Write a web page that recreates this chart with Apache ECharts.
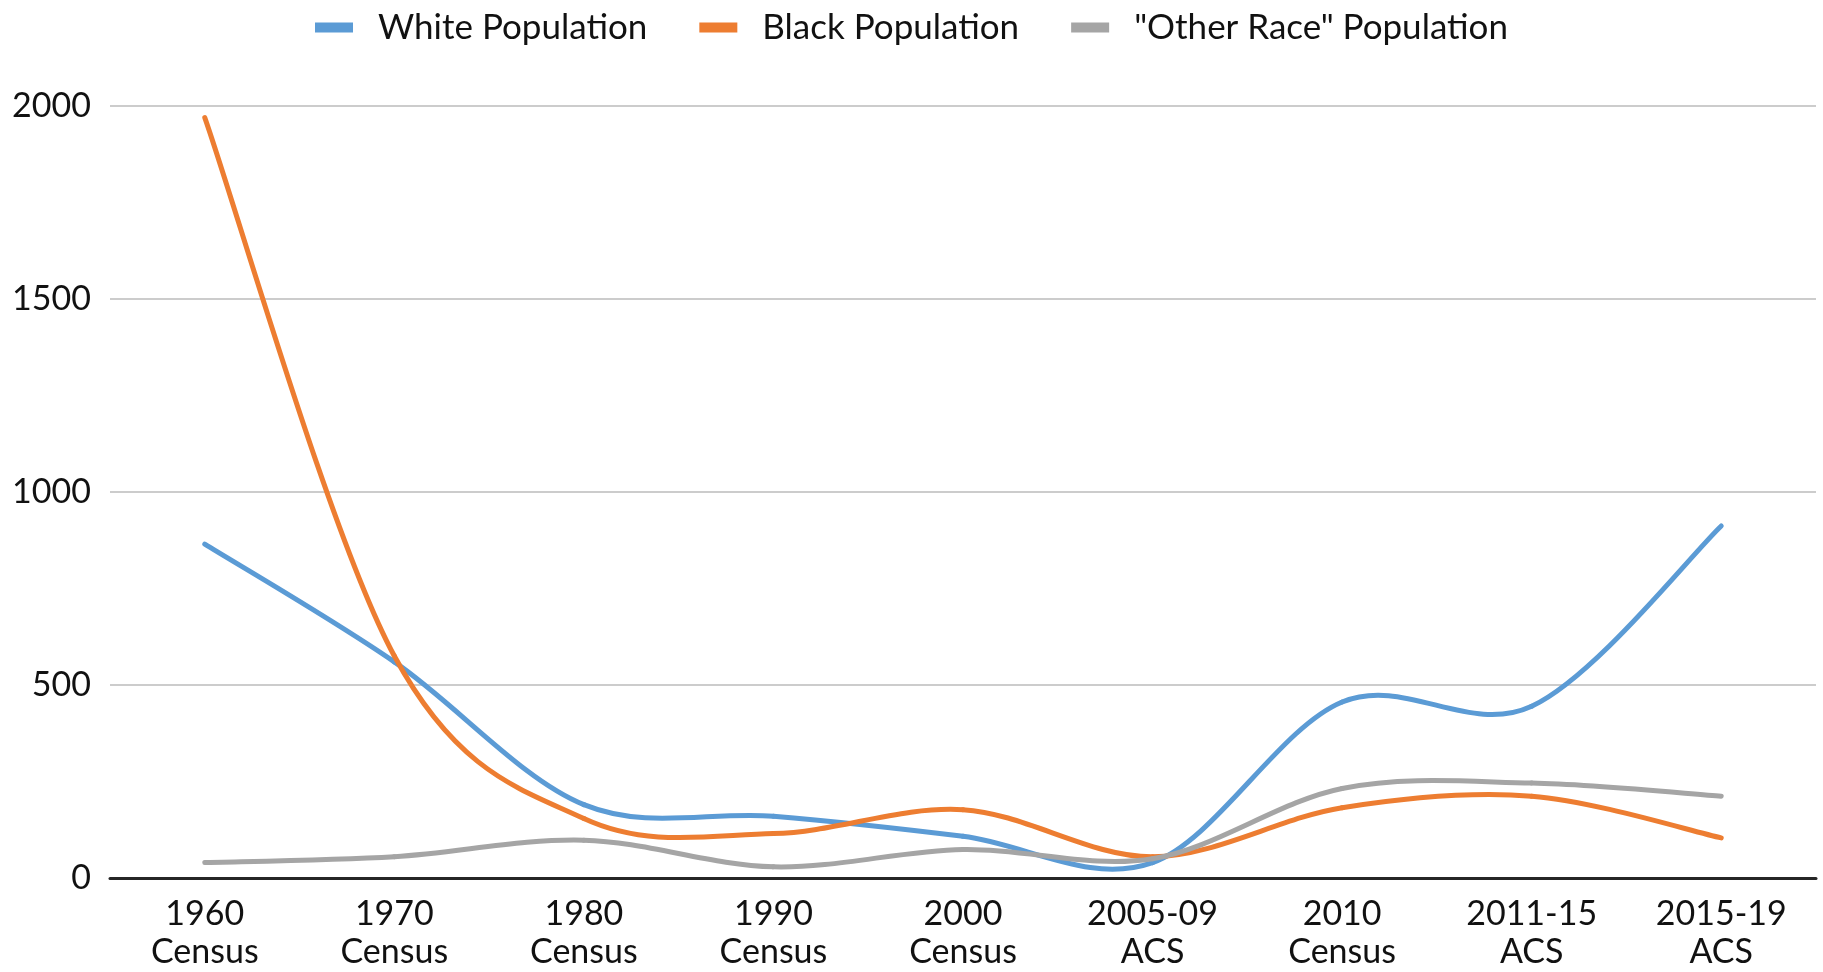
<!DOCTYPE html>
<html>
<head>
<meta charset="utf-8">
<title>Population by Race, 1960–2019</title>
<script src="https://cdn.jsdelivr.net/npm/echarts@6/dist/echarts.min.js"></script>
<style>
  html, body { margin: 0; padding: 0; background: #ffffff; }
  #chart { width: 1823px; height: 972px; }
</style>
</head>
<body>
<div id="chart"></div>
<script>
// Survey periods along the x axis
const periods = [
  '1960\nCensus', '1970\nCensus', '1980\nCensus', '1990\nCensus', '2000\nCensus',
  '2005-09\nACS', '2010\nCensus', '2011-15\nACS', '2015-19\nACS'
];

// Population counts per survey period
const whitePopulation = [865, 560, 190, 160, 108, 40, 456, 445, 912];
const blackPopulation = [1970, 575, 154, 115, 177, 55, 182, 212, 104];
const otherRacePopulation = [40, 55, 98, 29, 74, 50, 232, 246, 212];

// Value axis ticks
const yTicks = [0, 500, 1000, 1500, 2000];

const seriesNames = ['White Population', 'Black Population', '"Other Race" Population'];
const seriesColors = ['#5B9BD5', '#ED7D31', '#A5A5A5'];
const seriesValues = [whitePopulation, blackPopulation, otherRacePopulation];

const FONT = 'Lato, "Open Sans", sans-serif';
const LINE_WIDTH = 5;

// Smoothed line: each segment is a cubic Bezier whose control points follow
// the Catmull-Rom rule (neighbouring points, one sixth of the chord), so the
// curve passes through every value and may swing past it between periods.
function smoothSegmentRenderer(values, color) {
  return function (params, api) {
    const i = params.dataIndex;
    const n = values.length;
    if (i >= n - 1) return null;
    const pt = (k) => api.coord([Math.max(0, Math.min(n - 1, k)), values[Math.max(0, Math.min(n - 1, k))]]);
    const p0 = pt(i - 1), p1 = pt(i), p2 = pt(i + 1), p3 = pt(i + 2);
    return {
      type: 'bezierCurve',
      shape: {
        x1: p1[0], y1: p1[1],
        cpx1: p1[0] + (p2[0] - p0[0]) / 6, cpy1: p1[1] + (p2[1] - p0[1]) / 6,
        cpx2: p2[0] - (p3[0] - p1[0]) / 6, cpy2: p2[1] - (p3[1] - p1[1]) / 6,
        x2: p2[0], y2: p2[1]
      },
      style: {
        fill: null,
        stroke: color,
        lineWidth: LINE_WIDTH,
        lineCap: 'round'
      }
    };
  };
}

const chart = echarts.init(document.getElementById('chart'), null, { renderer: 'canvas' });

chart.setOption({
  backgroundColor: '#ffffff',
  animation: false,
  color: seriesColors,
  legend: {
    left: 'center',
    top: 5,
    icon: 'rect',
    itemWidth: 38,
    itemHeight: 10,
    itemGap: 52,
    textStyle: {
      fontFamily: FONT,
      fontSize: 35,
      color: '#111111',
      padding: [0, 0, 0, 20]
    },
    data: seriesNames
  },
  grid: {
    left: 110,
    right: 7,
    top: 106,
    bottom: 94,
    containLabel: false
  },
  xAxis: {
    type: 'category',
    data: periods,
    boundaryGap: true,
    axisLine: { show: true, lineStyle: { color: '#262626', width: 3 } },
    axisTick: { show: false },
    axisLabel: {
      interval: 0,
      margin: 17,
      fontFamily: FONT,
      fontSize: 34,
      lineHeight: 38,
      color: '#111111'
    },
    splitLine: { show: false }
  },
  yAxis: {
    type: 'value',
    min: yTicks[0],
    max: yTicks[yTicks.length - 1],
    interval: yTicks[1] - yTicks[0],
    axisLine: { show: false },
    axisTick: { show: false },
    axisLabel: {
      margin: 19,
      fontFamily: FONT,
      fontSize: 34,
      color: '#111111',
      formatter: (v) => String(v)
    },
    splitLine: { show: true, lineStyle: { color: '#cccccc', width: 2 } }
  },
  series: seriesNames.map((name, i) => ({
    name: name,
    type: 'custom',
    coordinateSystem: 'cartesian2d',
    data: seriesValues[i].map((v, k) => [k, v]),
    encode: { x: 0, y: 1 },
    renderItem: smoothSegmentRenderer(seriesValues[i], seriesColors[i]),
    itemStyle: { color: seriesColors[i] },
    z: 2 + i
  }))
});
</script>
</body>
</html>
